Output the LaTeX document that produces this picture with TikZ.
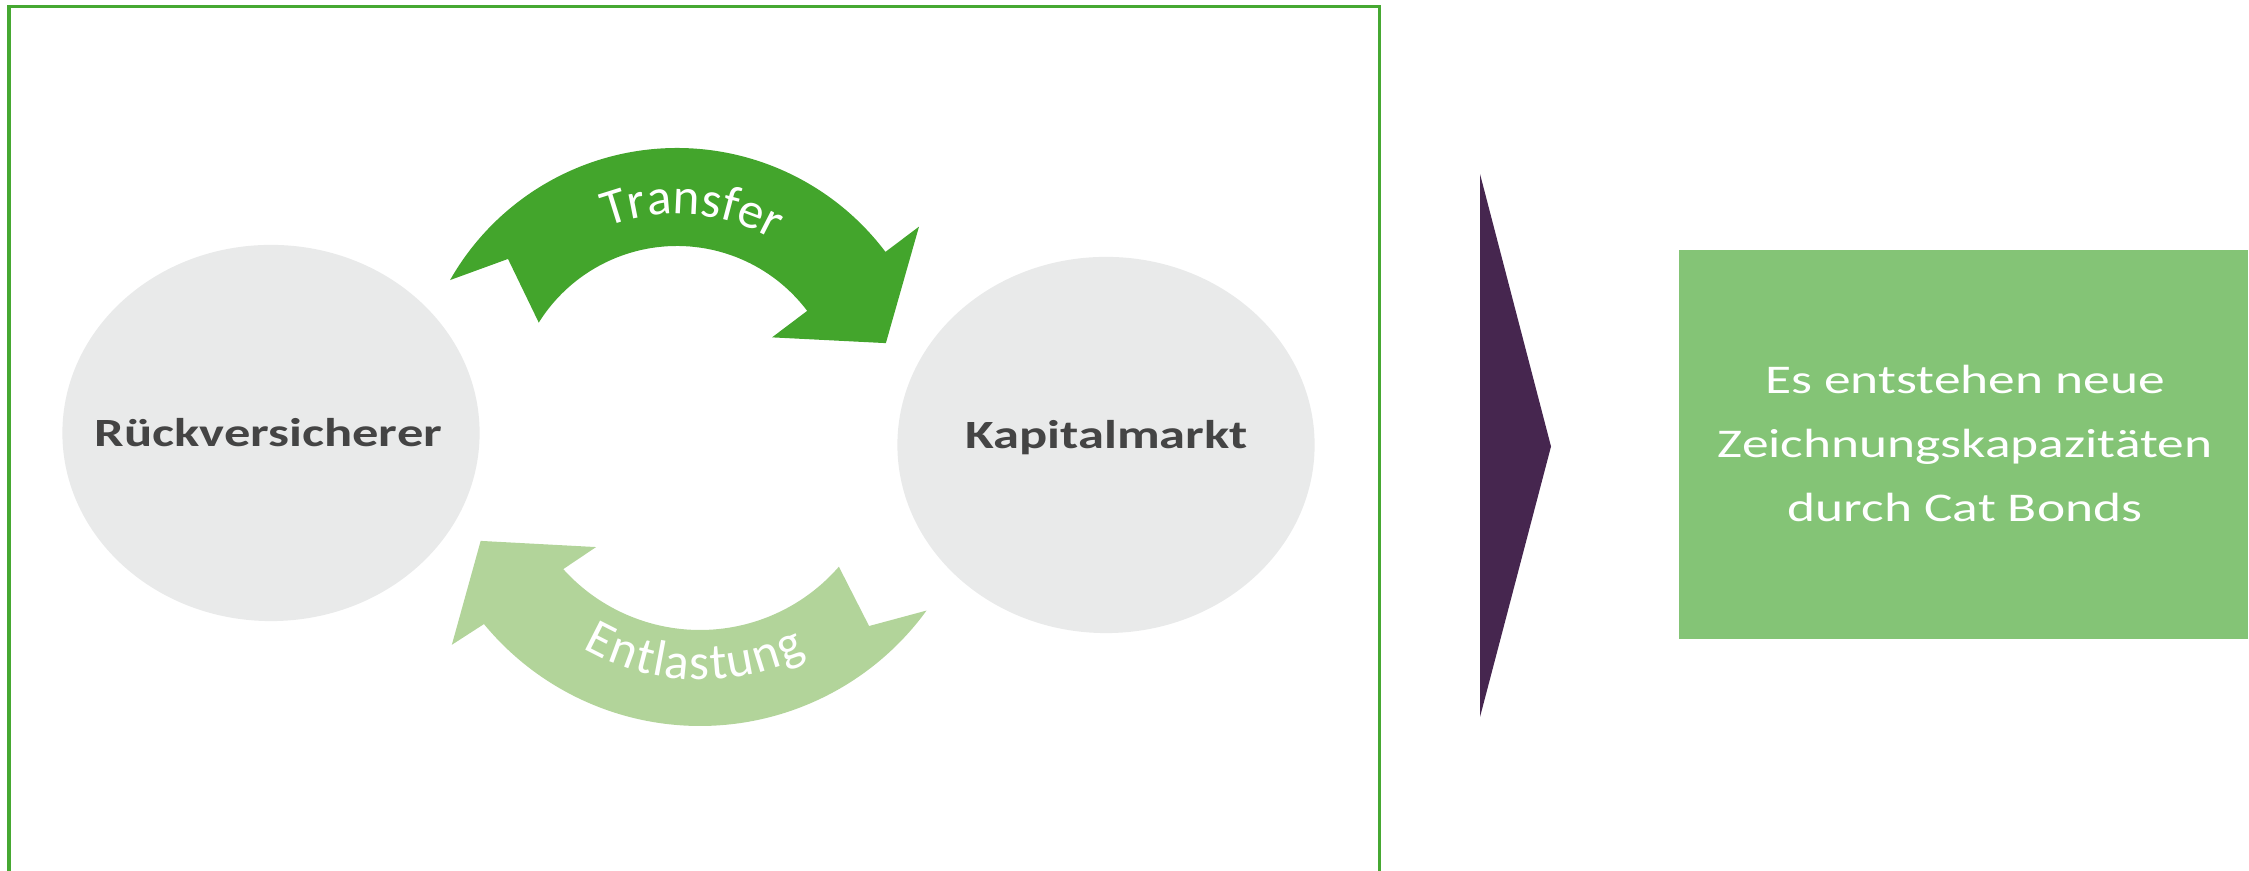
\documentclass[tikz,border=0pt]{standalone}
\usepackage{fontspec}
\setmainfont{Carlito}
\usepackage{graphicx}
\usetikzlibrary{positioning,shapes.geometric,decorations.text}

\definecolor{framegreen}{HTML}{46A832}
\definecolor{transfergreen}{HTML}{43A52C}
\definecolor{reliefgreen}{HTML}{B2D49A}
\definecolor{bubblegray}{HTML}{E9EAEA}
\definecolor{labelgray}{HTML}{444444}
\definecolor{resultgreen}{HTML}{84C476}
\definecolor{chevronpurple}{HTML}{46264F}

\newcommand{\wide}[1]{\scalebox{1.31}[1]{#1}}
\newcommand{\arcfont}{\fontsize{14.5}{17}\selectfont}

\tikzset{
	bubble/.style={ellipse, fill=bubblegray, minimum width=4.17cm, minimum height=3.76cm, inner sep=0pt},
	actor/.style={anchor=base, inner sep=0pt, text=labelgray, font=\fontsize{11.4}{13}\selectfont\bfseries},
	arctext/.style={decorate, decoration={text along path, text align=fit to path, text color=white, text={#1}}},
}

\begin{document}
\begin{tikzpicture}[x=0.01cm, y=0.01cm]
	\useasboundingbox (0,0) rectangle (2249,871);

	% frame, open at the bottom
	\draw[framegreen, line width=1pt] (9,0) -- (9,864.5) -- (1379.5,864.5) -- (1379.5,0);

	\node[bubble] (rv) at (271,438) {};
	\node[bubble] (km) at (1106,426) {};
	\node[actor] (rvlabel) at (268.5,424.3) {\wide{Rückversicherer}};
	\node[actor] (kmlabel) at (1106.5,422) {\wide{Kapitalmarkt}};

	\begin{scope}[shift={(677,462)}]
		\fill[transfergreen] (150.4:261) arc[start angle=150.4, end angle=37, radius=261]
			-- (37:303) -- (17.5:219) -- (37:119) -- (37:163)
			arc[start angle=37, end angle=148, radius=163] -- (138.4:226) -- cycle;
		\path[arctext={|\arcfont|Transfer}] (111:195) arc[start angle=111, end angle=62, radius=195];
	\end{scope}

	\begin{scope}[shift={(700,425)}]
		\fill[reliefgreen] (203.4:239) -- (224.2:145) -- (222:184)
			arc[start angle=222, end angle=319, radius=184] -- (313.2:247) -- (324:280)
			arc[start angle=324, end angle=219.5, radius=280] -- (218.7:318) -- cycle;
		\path[arctext={|\arcfont|Entlastung}] (240:234) arc[start angle=240, end angle=297, radius=234];
	\end{scope}

	\fill[chevronpurple] (1480,697) -- (1551,424.5) -- (1480,154) -- cycle;

	\node[fill=resultgreen, minimum width=5.69cm, minimum height=3.885cm, anchor=south west, inner sep=0pt] (result) at (1678,231.5) {};
	\node[text=white, inner sep=0pt, font=\fontsize{11.6}{18.2}\selectfont] (resulttext) at (1965,426.5)
		{\wide{\begin{tabular}{@{}c@{}}Es entstehen neue\\ Zeichnungskapazitäten\\ durch Cat Bonds\end{tabular}}};
\end{tikzpicture}
\end{document}
